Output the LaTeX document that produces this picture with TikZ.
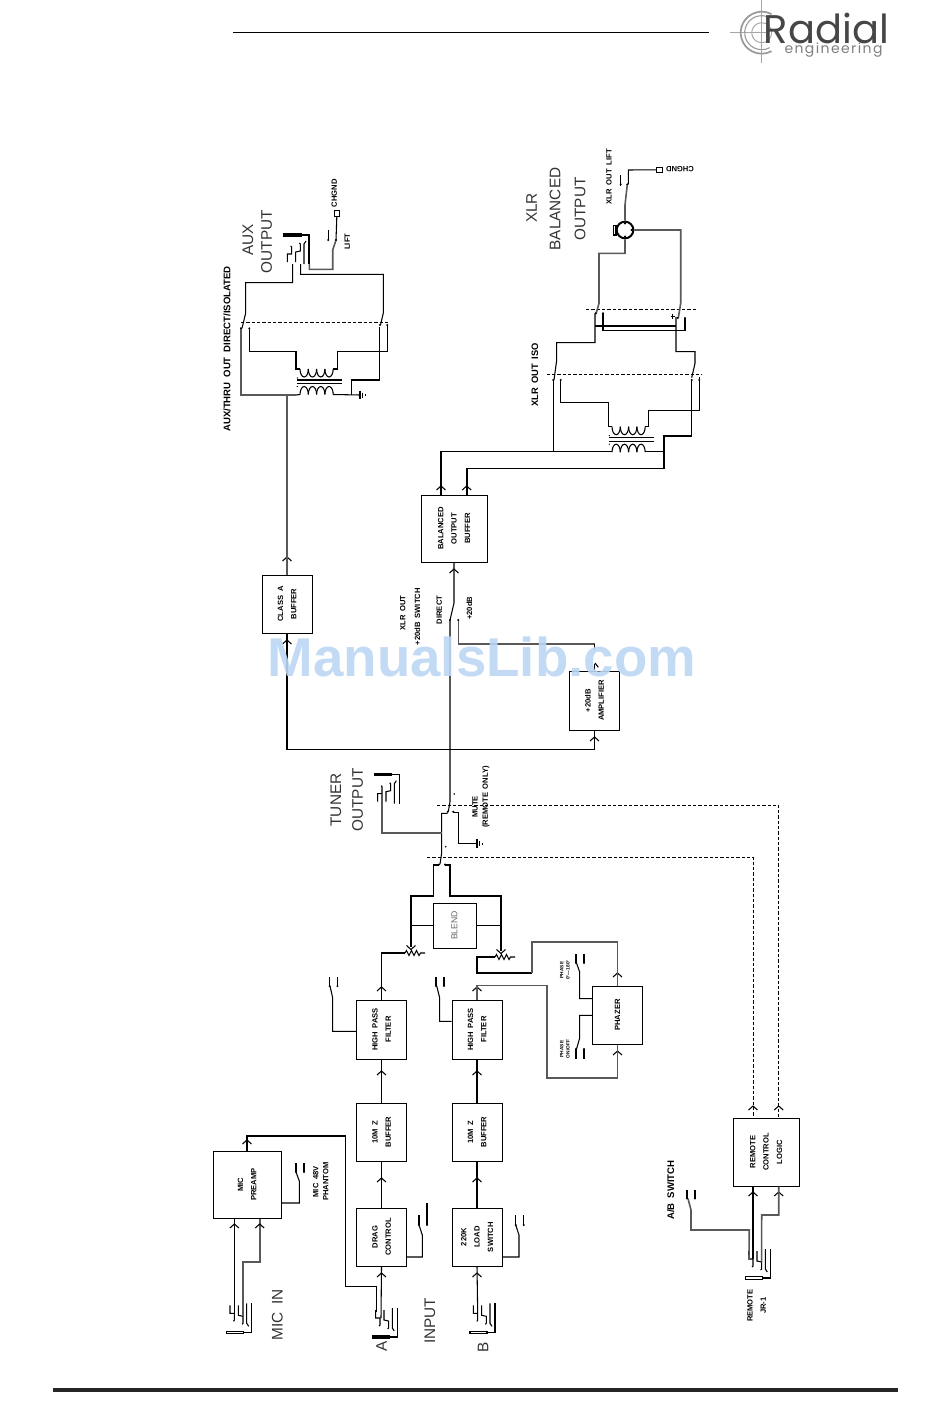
\documentclass[tikz,border=0pt]{standalone}
\usepackage{fontspec}
\setmainfont[WordSpace=1.8]{Liberation Sans}
\newfontfamily\logofont{Poppins}
\newfontfamily\logosubfont[LetterSpace=10]{Poppins}
\definecolor{watermark}{RGB}{188, 214, 244}
\definecolor{logogray}{RGB}{70, 70, 70}
\usetikzlibrary{calc}
\newcommand{\vtxt}[1]{\rotatebox{90}{\bfseries\fontsize{5.7}{10}\selectfont\begin{tabular}{@{}c@{}}#1\end{tabular}}}

\begin{document}
\begin{tikzpicture}[
  x=0.75pt, y=-0.75pt,
  wire/.style={line width=0.8pt, black},
  gwire/.style={line width=1.2pt, black!65},
  dashwire/.style={line width=0.6pt, dashed, dash pattern=on 2.5pt off 1.5pt},
  blk/.style n args={2}{draw, line width=0.75pt, inner sep=0pt, minimum width=#1*0.75pt, minimum height=#2*0.75pt},
  lbl/.style={rotate=90, inner sep=0pt, font=\bfseries\fontsize{5.7}{7}\selectfont},
  biglbl/.style={rotate=90, inner sep=0pt, font=\fontsize{11.5}{13}\selectfont, black!80},
  chev/.pic={\draw[wire] (-4.5,4) -- (0,0) -- (4.5,4);},
  pot/.pic={\draw[wire] (0,0) -- (1.5,-2.5) -- (4,2.5) -- (6.5,-2.5) -- (9,2.5) -- (11.5,-2.5) -- (14,2.5) -- (15.5,0) -- (20,0);},
  gnd/.pic={\draw[wire] (0,-4.3) -- (0,4.3) (2.7,-2.5) -- (2.7,2.5) (5.2,-1) -- (5.2,1);},
  jack/.pic={
    \draw[wire, pic actions] (0,-1.2) rectangle (17,1.2);
    \draw[wire] (17,0) -- (25,0) -- (25,-29);
    \draw[wire] (3.3,-27) -- (3.3,-19) -- (7.7,-19) -- (7.7,-12) -- (6.7,-11);
    \draw[wire] (11.7,-27) -- (11.7,-17) -- (16.3,-16) -- (16.3,-9) -- (15.3,-8);
    \draw[wire] (20,-29) -- (20,-9) -- (22,-6);
  },
  xfmr/.pic={
    \foreach \k in {0,...,3} {
      \draw[wire] (\k*8.3,0) arc[start angle=180, end angle=0, x radius=4.15, y radius=8];
      \draw[wire] (\k*8.3,25.5) arc[start angle=180, end angle=360, x radius=4.15, y radius=8];
    }
    \draw[wire] (-3,11) -- (41.5,11) (-3,14.5) -- (41.5,14.5);
    \fill (-2.7,9) circle (0.7) (-2.7,17.5) circle (0.7);
  },
]
\useasboundingbox (0,0) rectangle (950,1420);

% page rules and logo
\draw[line width=0.6pt] (233,32) -- (709,32);
\draw[line width=2.3pt, black!85] (53,1390) -- (898,1390);
\draw[line width=0.7pt, black!35] (761.7,0) -- (761.7,63) (730,32.7) -- (767,32.7);
\draw[line width=1.3pt, black!40] (761.7,32.7) ++(-62:21) arc[start angle=-62, end angle=-298, radius=21];
\draw[line width=0.8pt, black!40] (761.7,32.7) ++(-62:17) arc[start angle=-62, end angle=-298, radius=17];
\draw[line width=0.7pt, black!35] (761.7,32.7) circle (10);
\node[anchor=base, inner sep=0pt, text depth=0pt, text=logogray, font=\logofont\fontsize{30}{30}\selectfont] (logoname) at (826.5,43.5) {Radial};
\node[anchor=base, inner sep=0pt, text height=6pt, text depth=1pt, text=black!50, font=\logosubfont\fontsize{10.5}{11}\selectfont] (logosub) at (833.5,54) {engineering};

% blocks
\node[blk={68}{67}] (preamp) at (247,1184.5) {\vtxt{MIC\\PREAMP}};
\node[blk={50}{58}] (dragctl) at (381.5,1237) {\vtxt{DRAG\\CONTROL}};
\node[blk={50}{58}] (zbufa) at (381.5,1132) {\vtxt{10M  Z\\BUFFER}};
\node[blk={50}{59}] (hpfa) at (381.5,1029.5) {\vtxt{HIGH PASS\\FILTER}};
\node[blk={50}{58}] (loadsw) at (477,1237) {\vtxt{220K\\LOAD\\SWITCH}};
\node[blk={50}{58}] (zbufb) at (477,1132) {\vtxt{10M  Z\\BUFFER}};
\node[blk={50}{59}] (hpfb) at (477,1029.5) {\vtxt{HIGH PASS\\FILTER}};
\node[blk={50}{58}] (phazer) at (617.5,1015) {\vtxt{PHAZER}};
\node[blk={43}{45}] (blend) at (454.5,925.5) {\rotatebox{90}{\fontsize{6.5}{7}\selectfont\color{black!60}BLEND}};
\node[blk={50}{58}] (classa) at (287,604) {\vtxt{CLASS A\\BUFFER}};
\node[blk={66}{67}] (baloutbuf) at (454,528.5) {\vtxt{BALANCED\\OUTPUT\\BUFFER}};
\node[blk={50}{59}] (ampl) at (594.5,700.5) {\vtxt{+20dB\\AMPLIFIER}};
\node[blk={66}{68}] (remlogic) at (766,1152) {\vtxt{REMOTE\\CONTROL\\LOGIC}};

% jacks
\pic at (226.7,1332.3) {jack};
\pic[fill=black] at (372.3,1337) {jack};
\pic at (470,1332.3) {jack};
\pic at (745.3,1278) {jack};
\pic[yscale=-1, fill=black] at (374.3,774.7) {jack};
\pic[yscale=-1, fill=black] at (284,235) {jack};
\coordinate (micT) at (234.4,1313);
\coordinate (micR) at (243,1316);
\coordinate (inaT) at (381,1318);
\coordinate (inaR) at (376.7,1312);
\coordinate (inbT) at (477.7,1313);
\coordinate (remT) at (753,1259);
\coordinate (remR) at (761.6,1262);
\coordinate (remS) at (749,1259);
\coordinate (tunT) at (382,793.7);
\coordinate (auxT) at (292.7,264);
\coordinate (auxR) at (300.7,264);
\coordinate (auxS) at (309.3,264);

% input chain
\draw[wire] (micT) -- (micT |- preamp.south);
\draw[gwire] (micR) -- (243,1262) -- (259.7,1262) -- (preamp.south -| 259.7,0);
\draw[wire] (preamp.north) -- (247,1136) -- (345.3,1136) -- (345.3,1286.7) -- (376.7,1286.7) -- (inaR);
\draw[wire] (inaT) -- (dragctl.south);
\draw[wire] (inbT) -- (loadsw.south);
\draw[wire] (dragctl.north) -- (zbufa.south);
\draw[wire] (zbufa.north) -- (hpfa.south);
\draw[wire] (loadsw.north) -- (zbufb.south);
\draw[wire] (zbufb.north) -- (hpfb.south);
\foreach \ax/\ay in {234.4/1224, 259.7/1224, 247/1140, 381.5/1273, 381.5/1178, 381.5/1071, 381.5/987,
    477/1273, 477/1178, 477/1071, 477/987, 617.5/1051, 617.5/973, 287/640, 287/557,
    594.5/737, 441/486, 466.7/486, 454/569, 753/1192, 778.7/1192, 753/1106, 778.7/1106}
  \pic at (\ax,\ay) {chev};

% side switches
\draw[wire] (preamp.east |- 0,1203) -- (299.3,1203) -- (299.3,1181) -- (296,1172);
\draw[wire] (dragctl.east |- 0,1257) -- (422.3,1257) -- (422.3,1235) -- (419,1225);
\draw[wire] (loadsw.east |- 0,1257) -- (519,1257) -- (519,1235) -- (515.7,1225);
\draw[wire] (hpfa.west |- 0,1031.3) -- (332.7,1031.3) -- (332.7,998) -- (330,986);
\draw[wire] (hpfb.west |- 0,1021.3) -- (439.7,1021.3) -- (439.7,998) -- (436.7,986);
\draw[wire] (phazer.west |- 0,998.7) -- (579.7,998.7) -- (579.7,972) -- (576.5,963);
\draw[wire] (phazer.west |- 0,1015.3) -- (579.7,1015.3) -- (579.7,1038) -- (576.5,1049);
\foreach \cx/\cy/\ce in {296/1172/1163, 304/1172/1163, 419/1225/1215, 427/1225/1203, 515.7/1225/1215, 523.7/1225/1215,
    329.6/986/977, 337.4/986/977, 436/986/977, 444/986/977, 576/963/954, 584/963/954, 576/1049/1059, 584/1049/1059,
    687/1198.5/1190, 695/1198.5/1190, 328.3/240/230}
  \draw[wire] (\cx,\cy) -- (\cx,\ce);

% pots and blend
\draw[wire] (hpfa.north) -- (381.5,953) -- (405,953);
\pic at (405,953) {pot};
\draw[wire] (blend.west) -- (411,925.5);
\draw[wire] (411,947) -- (411,896) -- (433.7,896) -- (433.7,865) -- (439,865);
\draw[wire] (blend.east) -- (501,925.5);
\draw[wire] (501,951) -- (501,896) -- (450,896) -- (450,865) -- (445,865);
\pic[yscale=-1] at (411,949.5) {chev};
\pic[yscale=-1] at (501,953.5) {chev};
\pic at (495,957) {pot};
\draw[wire] (495,957) -- (477,957) -- (477,973) -- (531.7,973);
\draw[gwire] (531.7,973) -- (531.7,941.7) -- (617.5,941.7) -- (phazer.north);
\draw[gwire] (hpfb.north) -- (477,985.5) -- (546.7,985.5) -- (546.7,1078) -- (617.5,1078) -- (phazer.south);

% mute and tuner
\draw[wire] (440,864) -- (441.7,853) -- (441.7,813.3) -- (447.7,813.3);
\draw[wire] (448.3,811.7) -- (450,801.7) -- (450,749.3);
\draw[wire] (453.3,812.7) -- (458.7,812.7) -- (458.7,843.7) -- (477,843.7);
\pic at (477,843.7) {gnd};
\draw[gwire] (tunT) -- (382,833) -- (441.7,833);
\draw[dashwire] (437,805) -- (778.7,805) -- (remlogic.north -| 778.7,0);
\draw[dashwire] (427,857) -- (753,857) -- (remlogic.north -| 753,0);
\fill (454.3,794) circle (0.9) (445.7,846.7) circle (0.9);

% output paths
\draw[wire] (classa.south) -- (287,749.3) -- (594.5,749.3) -- (ampl.south);
\draw[wire] (450,749.3) -- (450,620) -- (454,603) -- (baloutbuf.south);
\draw[gwire] (458.3,620) -- (458.3,644) -- (594.5,644);
\draw[wire] (594.5,644) -- (594.5,650) (594.5,664) -- (ampl.north);
\draw[wire] (595,663) -- (598.3,667.3);
\draw[gwire] (classa.north) -- (287,395);

% remote
\draw[wire] (remT) -- (remT |- remlogic.south);
\draw[gwire] (remR) -- (761.7,1215) -- (778.7,1215) -- (remlogic.south -| 778.7,0);
\draw[gwire] (remS) -- (749.3,1230) -- (691,1230) -- (691,1210) -- (688,1198.5);

% aux output
\pic at (300,369) {xfmr};
\draw[gwire] (240.7,328.3) -- (240.7,395) -- (296,395);
\draw[wire] (296,395) -- (300,394.5) (333.2,394.5) -- (360,395);
\pic at (360,395) {gnd};
\draw[wire] (351.7,395) -- (351.7,380) -- (379.3,380) -- (379.3,327);
\draw[wire] (300,369) -- (296,369) -- (296,351.7) -- (249.3,351.7) -- (249.3,328.3);
\draw[wire] (333.2,369) -- (337.7,369) -- (337.7,351.7) -- (387.3,351.7) -- (387.3,325);
\draw[wire] (auxT) -- (292.7,282.7) -- (245.7,282.7) -- (245.7,313) -- (242,328.3);
\draw[wire] (auxR) -- (300.7,274.3) -- (383.3,274.3) -- (383.3,313) -- (380.5,325);
\draw[gwire] (auxS) -- (309.3,269.3) -- (332.7,269.3) -- (332.7,250) -- (336,240);
\node[draw, line width=0.7pt, inner sep=0pt, minimum width=3.7pt, minimum height=5pt] (chgaux) at (336.8,213.3) {};
\draw[wire] (336,240) -- (chgaux.south);
\draw[dashwire] (241,322.7) -- (390,322.7);
\foreach \dx/\dy in {241/328.3, 249.3/328.3, 380/325, 387.3/325, 328.3/240, 336/240}
  \fill (\dx,\dy) circle (1.1);

% xlr output
\pic at (612,426.7) {xfmr};
\draw[wire] (441,495) -- (441,451.7) -- (612,451.7);
\draw[wire] (467,495) -- (467,468.3) -- (664,468.3) -- (664,436) -- (691.7,436) -- (691.7,380);
\draw[wire] (645.2,451.7) -- (664,451.7);
\draw[wire] (553.3,451.7) -- (553.3,380);
\draw[wire] (612,426.7) -- (608.3,426.7) -- (608.3,402.7) -- (560.7,402.7) -- (560.7,380);
\draw[wire] (645.2,426.7) -- (648.3,426.7) -- (648.3,410.7) -- (699.3,410.7) -- (699.3,377.3);
\draw[dashwire] (546.7,374.3) -- (701.7,374.3);
\draw[dashwire] (586,309.3) -- (696,309.3);
\draw[wire] (554,380) -- (556.7,360) -- (556.7,342.7) -- (595,342.7) -- (595,313.3);
\draw[wire] (691.7,377.7) -- (695,363.3) -- (695,351.7) -- (676,351.7) -- (676,317);
\draw[wire] (595,326) -- (676,326);
\draw[wire] (603,313.3) -- (603,330.7) -- (685,330.7) -- (685,318);
\node[circle, draw, line width=1.5pt, inner sep=0pt, minimum size=12.5pt] (xlrout) at (625,230) {};
\draw[line width=1pt, fill=white] (613.5,225.7) rectangle (616,235);
\draw[gwire] (xlrout.south) -- (625,253.3) -- (599,253.3) -- (599,303.3) -- (596,314);
\draw[gwire] (xlrout.east) -- (680.7,230) -- (680.7,303.3) -- (678.3,318);
\draw[gwire] (xlrout.north) -- (625,205) -- (627.3,184.3);
\node[draw, line width=0.7pt, inner sep=0pt, minimum width=4.5pt, minimum height=3.3pt] (chgxlr) at (659.7,169.8) {};
\draw[wire] (628.3,184.3) -- (628.3,170) -- (chgxlr.west);
\draw[wire] (620.7,185.5) -- (620.7,175);
\draw[wire] (672.5,314) -- (672.5,319) (670.5,316.5) -- (675,316.5);
\foreach \dx/\dy in {553.3/380, 560.7/380, 691.7/380, 699.3/380, 595.7/313.3, 603/313.3, 677.7/318, 685/318,
    620.7/184.3, 627.3/184.3, 625/223.5, 625/236.5, 631.5/230, 450/620, 458.3/620, 447.7/811.7, 453.3/811.7, 439/864.5, 445/864.5}
  \fill (\dx,\dy) circle (1.1);
\foreach \dx/\dy in {296/1172, 304/1172, 419/1225, 427/1225, 515.7/1225, 523.7/1225, 329.6/986, 337.4/986, 436/986, 444/986,
    576/963, 584/963, 576/1049, 584/1049, 687/1198.5, 695/1198.5}
  \fill (\dx,\dy) circle (1.1);

% labels
\node[biglbl] (lblmicin) at (277.3,1315) {MIC  IN};
\node[biglbl] (lblinput) at (430,1320.7) {INPUT};
\node[biglbl] (lbla) at (381.7,1346.7) {A};
\node[biglbl] (lblb) at (483,1347) {B};
\node[biglbl] (lbltuna) at (336,800) {TUNER};
\node[biglbl] (lbltunb) at (357.5,800) {OUTPUT};
\node[biglbl] (lblauxa) at (248,240) {AUX};
\node[biglbl] (lblauxb) at (266.7,241.7) {OUTPUT};
\node[biglbl] (lblxlra) at (531.7,208) {XLR};
\node[biglbl] (lblxlrb) at (555,209) {BALANCED};
\node[biglbl] (lblxlrc) at (580,209) {OUTPUT};
\node[lbl, font=\bfseries\fontsize{7.2}{8}\selectfont] (lblisol) at (227,349) {AUX/THRU OUT DIRECT/ISOLATED};
\node[lbl] (lbllift) at (347.3,241.7) {LIFT};
\node[lbl] (lblchga) at (334.3,193.3) {CHGND};
\node[lbl, rotate=90] (lblchgb) at (680,169.3) {CHGND};
\node[lbl] (lblxlift) at (609,176.7) {XLR OUT LIFT};
\node[lbl, font=\bfseries\fontsize{7}{8}\selectfont] (lbliso) at (535,375) {XLR OUT ISO};
\node[lbl] (lblswa) at (402.7,613) {XLR OUT};
\node[lbl] (lblswb) at (417.3,616.7) {+20dB SWITCH};
\node[lbl] (lbldirect) at (439.3,610) {DIRECT};
\node[lbl] (lblplus) at (469.3,608.3) {+20dB};
\node[lbl] (lblmute) at (475,806.7) {MUTE};
\node[lbl] (lblmuteb) at (486,797) {(REMOTE ONLY)};
\node[lbl] (lblphana) at (315.7,1181.7) {MIC 48V};
\node[lbl] (lblphanb) at (325.7,1181.7) {PHANTOM};
\node[lbl, font=\bfseries\fontsize{3.6}{4}\selectfont] (lblpha) at (561.7,970) {PHASE};
\node[lbl, font=\bfseries\fontsize{3.6}{4}\selectfont] (lblphb) at (568,970) {0°---180°};
\node[lbl, font=\bfseries\fontsize{3.6}{4}\selectfont] (lblphc) at (561.7,1049) {PHASE};
\node[lbl, font=\bfseries\fontsize{3.6}{4}\selectfont] (lblphd) at (568,1049) {ON/OFF};
\node[lbl] (lblremote) at (750,1305.7) {REMOTE};
\node[lbl] (lbljr) at (763.3,1305.7) {JR-1};
\node[lbl, font=\bfseries\fontsize{7.2}{8}\selectfont] (lblab) at (670.7,1190) {A/B SWITCH};

% watermark
\node[inner sep=0pt, opacity=0.9, text=watermark, font=\bfseries\fontsize{41}{41}\selectfont] (wmark) at (482,657) {ManualsLib.com};
\end{tikzpicture}
\end{document}
